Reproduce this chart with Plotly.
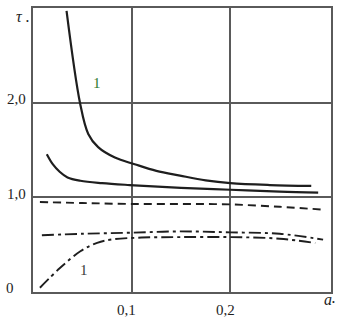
import plotly.graph_objects as go

# curve data
x_sol1 = [0.034, 0.0476, 0.056, 0.066, 0.083, 0.103, 0.125, 0.149, 0.175, 0.2, 0.24, 0.282]
y_sol1 = [2.97, 2.0, 1.67, 1.53, 1.42, 1.35, 1.28, 1.23, 1.18, 1.15, 1.13, 1.12]

x_sol2 = [0.014, 0.02, 0.027, 0.035, 0.048, 0.07, 0.098, 0.15, 0.2, 0.25, 0.289]
y_sol2 = [1.455, 1.35, 1.27, 1.21, 1.175, 1.15, 1.13, 1.10, 1.08, 1.06, 1.05]

x_dash = [0.007, 0.05, 0.098, 0.15, 0.2, 0.25, 0.294]
y_dash = [0.95, 0.94, 0.93, 0.93, 0.925, 0.90, 0.87]

x_dd1 = [0.009, 0.05, 0.098, 0.149, 0.2, 0.25, 0.294]
y_dd1 = [0.60, 0.615, 0.626, 0.64, 0.63, 0.615, 0.553]

x_dd2 = [0.007, 0.027, 0.048, 0.065, 0.08, 0.11, 0.149, 0.2, 0.25, 0.286]
y_dd2 = [0.045, 0.25, 0.43, 0.52, 0.555, 0.575, 0.58, 0.58, 0.563, 0.517]

y_ticks = [0, 1, 2]
y_ticktext = ["0", "1,0", "2,0"]
x_ticks = [0.1, 0.2]
x_ticktext = ["0,1", "0,2"]

ink = "#1e1e1e"
frame = "#5a5a5a"
fnt = "Liberation Serif"

fig = go.Figure()
fig.add_trace(go.Scatter(x=x_sol1, y=y_sol1, mode="lines", line=dict(color=ink, width=2.2, shape="spline")))
fig.add_trace(go.Scatter(x=x_sol2, y=y_sol2, mode="lines", line=dict(color=ink, width=2.2, shape="spline")))
fig.add_trace(go.Scatter(x=x_dash, y=y_dash, mode="lines",
                         line=dict(color=ink, width=1.9, dash="8px,5px", shape="spline")))
fig.add_trace(go.Scatter(x=x_dd1, y=y_dd1, mode="lines",
                         line=dict(color=ink, width=1.9, dash="12px,4px,3px,4px", shape="spline")))
fig.add_trace(go.Scatter(x=x_dd2, y=y_dd2, mode="lines",
                         line=dict(color=ink, width=1.9, dash="12px,4px,3px,4px", shape="spline")))


def label(x, y, text, xref, yref, size=15, color=ink):
    return dict(x=x, y=y, xref=xref, yref=yref, text=text, showarrow=False,
                xanchor="center", yanchor="middle",
                font=dict(family=fnt, size=size, color=color))


# tick labels as annotations so they sit where the original has them
ann = []
for v, t in zip(y_ticks, y_ticktext):
    xpos = -0.077 if t == "0" else -0.057
    ann.append(label(xpos, v + 0.04, t, "paper", "y"))
for v, t in zip(x_ticks, x_ticktext):
    ann.append(label(v - 0.005, -0.063, t, "x", "paper"))
# axis names, with the small dot written separately
ann.append(label(0.99, -0.028, "<i>a</i>", "paper", "paper", size=16))
ann.append(label(1.01, -0.038, "•", "paper", "paper", size=8))
ann.append(label(-0.044, 0.969, "<i>τ</i>", "paper", "paper", size=16))
ann.append(label(-0.017, 0.951, "•", "paper", "paper", size=8))
# curve labels
ann.append(label(0.065, 2.21, "1", "x", "y", color="#2f7a2f"))
ann.append(label(0.052, 0.23, "1", "x", "y", color="#3a3a3a"))

fig.update_layout(
    width=348, height=324,
    margin=dict(l=33, r=17, t=6, b=32),
    paper_bgcolor="white", plot_bgcolor="white",
    showlegend=False,
    annotations=ann,
)
fig.update_xaxes(range=[0, 0.302], tickvals=x_ticks, showticklabels=False, ticks="",
                 showgrid=True, gridcolor=frame, gridwidth=1.5, zeroline=False,
                 showline=True, linecolor=frame, linewidth=2, mirror=True)
fig.update_yaxes(range=[0, 3.0], tickvals=y_ticks[1:], showticklabels=False, ticks="",
                 showgrid=True, gridcolor=frame, gridwidth=1.5, zeroline=False,
                 showline=True, linecolor=frame, linewidth=2, mirror=True)

fig.write_html("out.html", config={"displayModeBar": False},
               post_script="document.body.style.margin='0';")
